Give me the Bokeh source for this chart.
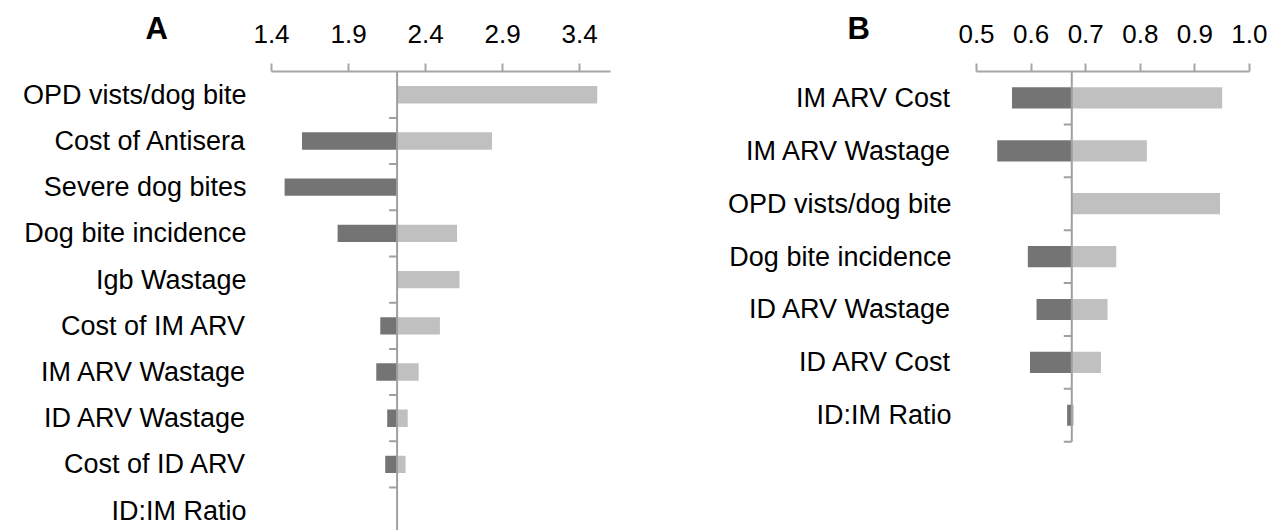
import math
from bokeh.plotting import figure
from bokeh.layouts import row
from bokeh.models import Range1d, FixedTicker, LinearAxis, PrintfTickFormatter
from bokeh.embed import file_html
from bokeh.resources import INLINE

# ---- data: panel A ----
labels_a = ["OPD vists/dog bite", "Cost of Antisera", "Severe dog bites",
            "Dog bite incidence", "Igb Wastage", "Cost of IM ARV",
            "IM ARV Wastage", "ID ARV Wastage", "Cost of ID ARV", "ID:IM Ratio"]
base_a = 2.215
low_a = [2.215, 1.598, 1.485, 1.829, 2.215, 2.106, 2.080, 2.151, 2.138, 2.215]
high_a = [3.514, 2.831, 2.215, 2.604, 2.620, 2.493, 2.355, 2.284, 2.270, 2.215]
ticks_a = [1.4, 1.9, 2.4, 2.9, 3.4]

# ---- data: panel B ----
labels_b = ["IM ARV Cost", "IM ARV Wastage", "OPD vists/dog bite",
            "Dog bite incidence", "ID ARV Wastage", "ID ARV Cost", "ID:IM Ratio"]
base_b = 0.6745
low_b = [0.565, 0.538, 0.6745, 0.594, 0.610, 0.598, 0.666]
high_b = [0.950, 0.812, 0.946, 0.756, 0.740, 0.728, 0.678]
ticks_b = [0.5, 0.6, 0.7, 0.8, 0.9, 1.0]

FONT = "Liberation Sans"
DARK = "#747474"
LIGHT = "#c0c0c0"
AXIS = "#a6a6a6"
H = 530


def panel(labels, base, low, high, ticks, xr, yr, line_end, width, mb, letter, letter_dx,
          bar_h, letter_standoff):
    n = len(labels)
    rows = list(range(n))
    p = figure(width=width, height=H, x_range=Range1d(*xr), y_range=Range1d(*yr),
               output_backend="svg", toolbar_location=None, x_axis_location=None,
               y_axis_location=None, title=letter, title_location="above")
    p.min_border_left, p.min_border_right, p.min_border_top, p.min_border_bottom = mb
    p.outline_line_color = None
    p.xgrid.visible = False
    p.ygrid.visible = False
    p.background_fill_color = "white"
    p.border_fill_color = "white"

    # panel letter (A / B) drawn as the plot title, pulled down beside the tick labels
    p.title.text_font = FONT
    p.title.text_font_size = "31px"
    p.title.text_font_style = "bold"
    p.title.text_color = "black"
    p.title.align = "left"
    p.title.offset = letter_dx
    p.title.standoff = letter_standoff

    xa = LinearAxis(ticker=FixedTicker(ticks=ticks), formatter=PrintfTickFormatter(format="%.1f"))
    xa.axis_line_color = AXIS
    xa.axis_line_width = 2
    xa.major_tick_line_color = AXIS
    xa.major_tick_line_width = 2
    xa.major_tick_out = 8
    xa.major_tick_in = 0
    xa.minor_tick_line_color = None
    xa.major_label_text_font = FONT
    xa.major_label_text_font_size = "26px"
    xa.major_label_text_color = "black"
    xa.major_label_standoff = 21
    p.add_layout(xa, "above")

    ya = LinearAxis(ticker=FixedTicker(ticks=rows))
    ya.major_label_overrides = {i: labels[i] for i in rows}
    ya.axis_line_color = None
    ya.major_tick_line_color = None
    ya.minor_tick_line_color = None
    ya.major_tick_out = 0
    ya.major_tick_in = 0
    ya.major_label_text_font = FONT
    ya.major_label_text_font_size = "27px"
    ya.major_label_text_color = "black"
    ya.major_label_standoff = 25
    p.add_layout(ya, "left")

    p.hbar(y=rows, left=base, right=low, height=bar_h, fill_color=DARK, line_color=None)
    p.hbar(y=rows, left=base, right=high, height=bar_h, fill_color=LIGHT, line_color=None)

    # centre (base) line and its category ticks
    p.segment(x0=[base], y0=[yr[1]], x1=[base], y1=[line_end], line_color="#a0a0a0",
              line_width=2)
    p.ray(x=[base] * n, y=[r + 0.5 for r in rows], length=8, length_units="screen",
          angle=math.pi, line_color="#a0a0a0", line_width=2)
    return p


# panel A: frame x 271..610, y 71..530
pa = panel(labels_a, base_a, low_a, high_a, ticks_a, (1.4, 3.6), (9.43, -0.504), 9.43,
           690, (271, 80, 71, 0), "A", -126, 0.375, -48)
# panel B: frame x 976..1249, y 64..530 (categories end at 440)
pb = panel(labels_b, base_b, low_b, high_b, ticks_b, (0.5, 1.0), (8.18, -0.5), 6.5,
           577, (286, 18, 64, 0), "B", -129, 0.40, -48)

layout = row(pa, pb)
open("out.html", "w").write(file_html(layout, INLINE))
